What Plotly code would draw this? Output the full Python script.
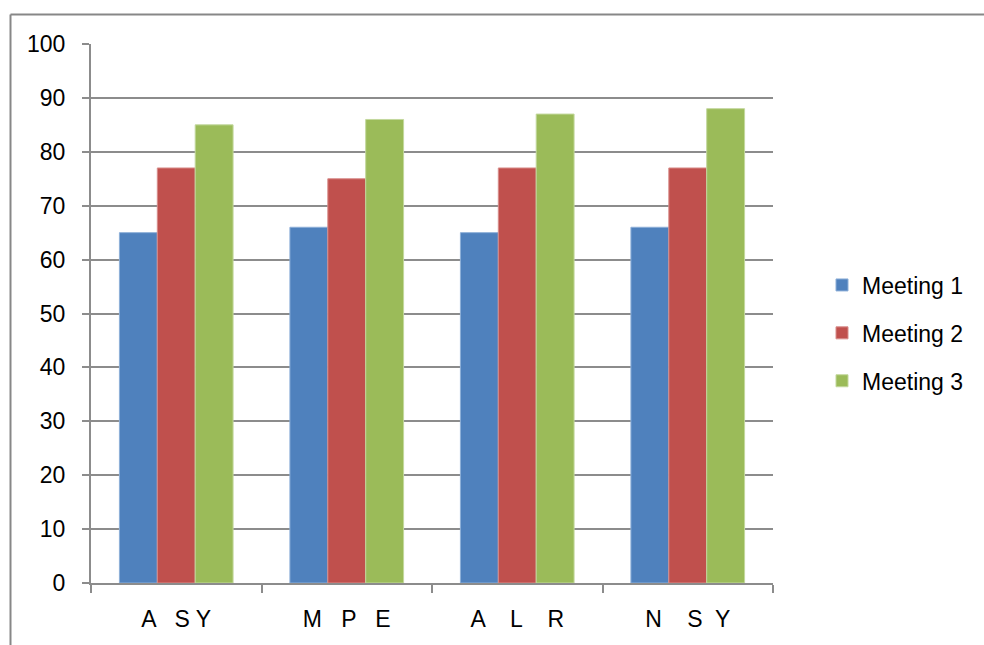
import plotly.graph_objects as go

# Clustered column chart: three meetings per group
categories = ["A   S Y", "M   P   E", "A    L    R", "N    S  Y"]
series_names = ["Meeting 1", "Meeting 2", "Meeting 3"]
meeting_1 = [65, 66, 65, 66]
meeting_2 = [77, 75, 77, 77]
meeting_3 = [85, 86, 87, 88]
y_ticks = list(range(0, 101, 10))

fill_colors = ["#4F81BD", "#C0504D", "#9BBB59"]
edge_colors = ["#8DAFD8", "#D88D8B", "#C3D89D"]

W, H = 984, 645
L, R, T, B = 91, 211, 44, 62
pw, ph = W - L - R, H - T - B

fig = go.Figure()
for i, (name, vals) in enumerate(zip(series_names, [meeting_1, meeting_2, meeting_3])):
    fig.add_trace(go.Bar(
        x=categories, y=vals, name=name,
        marker=dict(color=fill_colors[i], line=dict(color=edge_colors[i], width=1)),
        legendgroup=name,
    ))

grid_col = "#8C8C8C"
font = "Liberation Sans, Arial, sans-serif"
fsize = 23


def px_to_paper_x(px):
    return (px - L) / pw


def px_to_paper_y(py):
    return (H - B - py) / ph


# outer chart-area frame (top and left edges)
frame_x0 = px_to_paper_x(10.5)
frame_y0 = px_to_paper_y(14.5)
fig.add_shape(type="line", xref="paper", yref="paper",
              x0=frame_x0, y0=frame_y0, x1=px_to_paper_x(W + 5), y1=frame_y0,
              line=dict(color="#878787", width=2), layer="below")
fig.add_shape(type="line", xref="paper", yref="paper",
              x0=frame_x0, y0=frame_y0, x1=frame_x0, y1=px_to_paper_y(H + 5),
              line=dict(color="#878787", width=2), layer="below")

fig.update_layout(
    width=W, height=H,
    margin=dict(l=L, r=R, t=T, b=B),
    paper_bgcolor="white", plot_bgcolor="white",
    barmode="group", bargap=1/3, bargroupgap=0,
    font=dict(family=font, size=fsize, color="black"),
    showlegend=True,
    legend=dict(
        x=px_to_paper_x(822), xanchor="left",
        y=px_to_paper_y(333), yanchor="middle",
        traceorder="grouped", tracegroupgap=15,
        font=dict(family=font, size=fsize, color="black"),
        itemwidth=30, bgcolor="rgba(0,0,0,0)",
    ),
    xaxis=dict(
        type="category",
        showline=True, linecolor=grid_col, linewidth=2,
        ticks="outside", tickson="boundaries", ticklen=8, tickwidth=2, tickcolor=grid_col,
        showgrid=False, ticklabelstandoff=14,
        tickfont=dict(family=font, size=fsize, color="black"),
    ),
    yaxis=dict(
        range=[0, 100], tickvals=y_ticks,
        showline=True, linecolor=grid_col, linewidth=2,
        showgrid=True, gridcolor=grid_col, gridwidth=2,
        ticks="outside", ticklen=7, tickwidth=2, tickcolor=grid_col,
        zeroline=False, ticklabelstandoff=12,
        tickfont=dict(family=font, size=fsize, color="black"),
    ),
)

fig.write_html("out.html")
